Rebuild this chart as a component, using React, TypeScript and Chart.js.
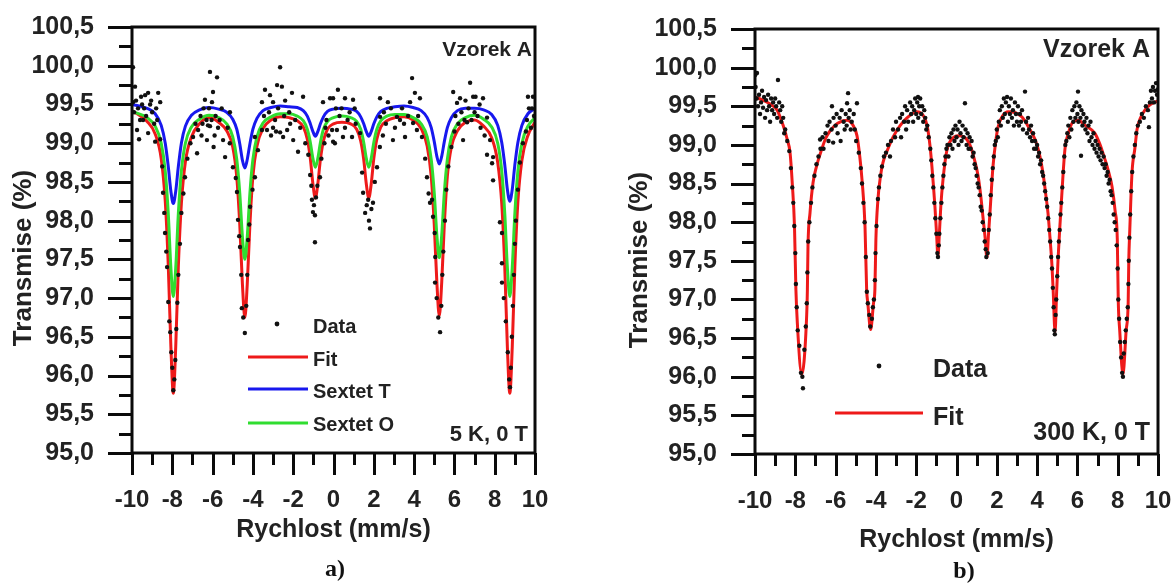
import React, { useEffect, useRef } from 'react';
import { Chart, registerables } from 'chart.js';

Chart.register(...registerables);

// ---------------- data ----------------
const xTicks = [-10, -8, -6, -4, -2, 0, 2, 4, 6, 8, 10];
const xMinorTicks = [-9, -7, -5, -3, -1, 1, 3, 5, 7, 9];
const yTicks = [95, 95.5, 96, 96.5, 97, 97.5, 98, 98.5, 99, 99.5, 100, 100.5];
const yMinorTicks = [95.25, 95.75, 96.25, 96.75, 97.25, 97.75, 98.25, 98.75, 99.25, 99.75, 100.25];

// panel a) 5 K — fit curves
const velA = [-10, -9.25, -8.85, -8.55, -8.35, -8.2, -8.07, -7.95, -7.83, -7.7, -7.55, -7.35, -7.05, -6.65,
  -6.17, -5.7, -5.3, -5.0, -4.8, -4.65, -4.52, -4.4, -4.28, -4.15, -4.0, -3.8, -3.5, -3.1,
  -2.65, -2.2, -1.8, -1.5, -1.3, -1.15, -1.02, -0.9, -0.78, -0.65, -0.5, -0.3, 0.0,
  0.42, 0.85, 1.15, 1.35, 1.5, 1.63, 1.75, 1.87, 2.0, 2.15, 2.35, 2.65, 3.05,
  3.5, 3.95, 4.35, 4.65, 4.85, 5.0, 5.13, 5.25, 5.37, 5.5, 5.65, 5.85, 6.15, 6.55,
  7.0, 7.45, 7.85, 8.15, 8.35, 8.5, 8.63, 8.75, 8.87, 9.0, 9.15, 9.35, 9.65, 10];

const sextetT = [99.5, 99.45, 99.38, 99.23, 99.0, 98.7, 98.38, 98.22, 98.38, 98.7, 99.0, 99.22, 99.36, 99.43,
  99.46, 99.44, 99.4, 99.31, 99.18, 98.99, 98.78, 98.68, 98.79, 98.99, 99.18, 99.32, 99.42, 99.46,
  99.48, 99.47, 99.46, 99.42, 99.35, 99.25, 99.15, 99.09, 99.15, 99.25, 99.34, 99.41, 99.44,
  99.45, 99.44, 99.41, 99.34, 99.25, 99.15, 99.09, 99.15, 99.25, 99.34, 99.41, 99.45, 99.47,
  99.48, 99.46, 99.42, 99.33, 99.2, 99.02, 98.83, 98.73, 98.83, 99.02, 99.2, 99.33, 99.42, 99.45,
  99.45, 99.43, 99.37, 99.23, 99.01, 98.72, 98.4, 98.25, 98.4, 98.72, 99.01, 99.23, 99.38, 99.45];

const sextetO = [99.41, 99.33, 99.22, 99.0, 98.64, 98.09, 97.39, 97.02, 97.39, 98.09, 98.64, 99.0, 99.21, 99.31,
  99.36, 99.33, 99.25, 99.08, 98.79, 98.35, 97.79, 97.5, 97.79, 98.35, 98.79, 99.08, 99.26, 99.34,
  99.38, 99.38, 99.35, 99.29, 99.18, 99.01, 98.8, 98.69, 98.8, 99.01, 99.18, 99.28, 99.33,
  99.35, 99.33, 99.28, 99.18, 99.01, 98.8, 98.69, 98.8, 99.01, 99.18, 99.29, 99.35, 99.37,
  99.37, 99.33, 99.25, 99.08, 98.79, 98.36, 97.81, 97.52, 97.81, 98.36, 98.79, 99.08, 99.25, 99.33,
  99.36, 99.31, 99.21, 99.0, 98.64, 98.09, 97.39, 97.02, 97.39, 98.09, 98.64, 99.0, 99.22, 99.33];

const fitA = [99.42, 99.28, 99.12, 98.8, 98.25, 97.42, 96.37, 95.77, 96.37, 97.41, 98.22, 98.76, 99.08, 99.25,
  99.33, 99.27, 99.16, 98.95, 98.56, 97.94, 97.18, 96.75, 97.18, 97.94, 98.57, 98.96, 99.19, 99.3,
  99.34, 99.33, 99.29, 99.21, 99.05, 98.8, 98.47, 98.29, 98.47, 98.79, 99.03, 99.18, 99.25,
  99.27, 99.25, 99.18, 99.03, 98.79, 98.47, 98.29, 98.47, 98.8, 99.05, 99.21, 99.29, 99.33,
  99.34, 99.3, 99.19, 98.96, 98.57, 97.95, 97.2, 96.77, 97.2, 97.95, 98.57, 98.95, 99.16, 99.27,
  99.3, 99.22, 99.07, 98.75, 98.22, 97.4, 96.36, 95.77, 96.36, 97.41, 98.24, 98.78, 99.1, 99.27];

// panel a) measured points [velocity, transmission]
const dataA = [
  [-9.95, 99.98], [-9.85, 99.73], [-9.95, 99.53], [-9.9, 99.4], [-9.8, 99.55], [-9.75, 99.17], [-9.7, 99.45], [-9.65, 99.05],
  [-9.6, 99.3], [-9.55, 99.6], [-9.5, 99.5], [-9.45, 99.3], [-9.4, 99.45], [-9.35, 99.62], [-9.3, 99.35], [-9.2, 99.65],
  [-9.2, 99.13], [-9.1, 99.5], [-9.05, 99.55], [-9.0, 99.4], [-8.9, 99.25], [-8.85, 99.02], [-8.8, 99.45], [-8.7, 99.65], [-8.6, 99.53],
  [-8.75, 99.3], [-8.6, 99.05], [-8.5, 98.7], [-8.46, 98.36], [-8.4, 98.1], [-8.36, 97.84], [-8.3, 97.6], [-8.26, 97.4],
  [-8.2, 96.95], [-8.15, 96.7], [-8.1, 96.56], [-8.05, 96.3], [-8.0, 96.1], [-7.95, 95.81], [-7.9, 95.95], [-7.85, 96.2],
  [-7.8, 96.6], [-7.75, 96.94], [-7.7, 97.3], [-7.62, 97.7], [-7.55, 98.1], [-7.45, 98.35], [-7.37, 98.56], [-7.25, 98.8],
  [-7.1, 99.0], [-6.97, 99.08],
  [-6.85, 99.25], [-6.77, 98.87], [-6.72, 99.17], [-6.6, 99.35], [-6.55, 99.1], [-6.5, 99.25], [-6.45, 99.45], [-6.38, 99.56],
  [-6.3, 99.3], [-6.28, 99.04], [-6.23, 99.23], [-6.18, 99.45], [-6.13, 99.92], [-6.13, 99.22], [-6.05, 99.3], [-6.03, 99.53],
  [-5.98, 99.66], [-5.95, 98.95], [-5.9, 99.1], [-5.85, 99.35], [-5.78, 99.85], [-5.73, 99.2], [-5.65, 99.3], [-5.55, 99.45],
  [-5.48, 99.04], [-5.38, 98.82], [-5.25, 99.2], [-5.14, 99.4],
  [-5.15, 99.0], [-4.99, 98.69], [-4.85, 98.55], [-4.79, 98.37], [-4.74, 98.01], [-4.68, 97.8], [-4.64, 97.66], [-4.58, 97.3],
  [-4.55, 96.87], [-4.48, 96.75], [-4.4, 96.55], [-4.33, 96.9], [-4.28, 97.3], [-4.24, 97.75], [-4.18, 97.95], [-4.14, 98.18],
  [-4.02, 98.4], [-3.9, 98.56], [-3.9, 99.08], [-3.75, 98.91],
  [-3.55, 99.53], [-3.55, 99.17], [-3.45, 99.35], [-3.4, 99.69], [-3.3, 99.17], [-3.2, 99.4], [-3.15, 99.62], [-3.1, 99.1],
  [-3.0, 99.53], [-3.0, 99.2], [-2.9, 99.3], [-2.85, 99.15], [-2.8, 99.75], [-2.75, 99.45], [-2.65, 99.98], [-2.65, 99.14],
  [-2.56, 99.73], [-2.5, 99.08], [-2.45, 99.35], [-2.4, 99.55], [-2.3, 99.17], [-2.2, 99.4], [-2.15, 99.25], [-2.06, 99.65],
  [-2.0, 99.04], [-1.9, 99.3], [-1.76, 98.89], [-1.65, 99.2], [-1.51, 99.6],
  [-1.4, 99.0], [-1.25, 98.85], [-1.16, 98.59], [-1.1, 98.45], [-1.07, 98.27], [-1.02, 98.11], [-0.97, 98.2], [-0.92, 98.07],
  [-0.92, 97.72], [-0.87, 98.3], [-0.8, 98.45], [-0.67, 98.56], [-0.6, 98.8], [-0.45, 99.0],
  [-0.52, 99.53], [-0.4, 99.2], [-0.35, 99.3], [-0.25, 99.1], [-0.17, 99.58], [-0.07, 99.17], [-0.02, 99.58], [-0.02, 99.02],
  [0.07, 99.0], [0.12, 99.45], [0.17, 99.17], [0.22, 99.69], [0.3, 99.35], [0.4, 99.45], [0.47, 99.08], [0.57, 99.58],
  [0.57, 99.2], [0.7, 99.3], [0.8, 99.4], [0.92, 99.08], [0.97, 99.56], [1.05, 99.45], [1.1, 99.25], [1.32, 99.13],
  [1.42, 98.62], [1.47, 98.36], [1.57, 98.1], [1.65, 98.2], [1.72, 98.27], [1.76, 98.0], [1.81, 97.9], [1.88, 98.15],
  [1.96, 98.23], [2.05, 98.5], [2.16, 98.69], [2.3, 98.95],
  [2.31, 99.58], [2.31, 99.34], [2.45, 99.1], [2.5, 99.4], [2.6, 99.25], [2.7, 99.53], [2.85, 99.45], [2.95, 99.04],
  [3.05, 99.2], [3.15, 99.34], [3.3, 99.3], [3.4, 99.45], [3.5, 99.25], [3.55, 99.08], [3.7, 99.35], [3.8, 99.53],
  [3.9, 99.84], [3.95, 99.26], [4.04, 99.65], [4.14, 99.17], [4.2, 99.35], [4.29, 99.58], [4.39, 99.08],
  [4.55, 98.8], [4.64, 98.56], [4.72, 98.35], [4.79, 98.23], [4.89, 98.27], [4.94, 98.05], [5.02, 97.84], [5.05, 97.53],
  [5.04, 97.2], [5.12, 97.0], [5.2, 96.75], [5.29, 96.56], [5.35, 96.9], [5.4, 97.3], [5.45, 97.6], [5.53, 98.0],
  [5.6, 98.4], [5.7, 98.7], [5.85, 98.95],
  [5.94, 99.66], [6.0, 99.15], [6.05, 99.35], [6.13, 99.52], [6.2, 99.25], [6.28, 99.58], [6.35, 99.4], [6.43, 99.04],
  [6.5, 99.3], [6.55, 99.55], [6.63, 99.27], [6.7, 99.45], [6.78, 99.78], [6.85, 99.3], [6.93, 99.6], [7.0, 99.4],
  [7.05, 99.6], [7.15, 99.35], [7.25, 99.5], [7.3, 99.2], [7.42, 99.58], [7.5, 99.1], [7.62, 99.33], [7.77, 99.04],
  [7.62, 98.85], [7.87, 98.74], [7.92, 98.82], [7.92, 98.52], [8.26, 97.98], [8.36, 97.84], [8.36, 97.45], [8.36, 97.2],
  [8.45, 97.0], [8.55, 96.7], [8.65, 96.3], [8.72, 95.95], [8.76, 95.85], [8.8, 96.1], [8.85, 96.5], [8.9, 96.9],
  [8.95, 97.3], [9.0, 97.7], [9.05, 98.0], [9.15, 98.4], [9.25, 98.75], [9.4, 99.0], [9.55, 99.15],
  [9.6, 99.3], [9.65, 99.6], [9.7, 99.45], [9.8, 99.2], [9.85, 99.45], [9.9, 99.6], [9.95, 99.35],
];

// panel b) 300 K — fit curve
const velB = [-10, -9.6, -9.2, -8.9, -8.6, -8.4, -8.26, -8.15, -8.04, -7.97,
  -7.9, -7.68, -7.45, -7.4, -7.37, -7.27, -7.12, -6.95, -6.77, -6.5,
  -6.28, -5.9, -5.43, -5.15, -4.94, -4.8, -4.69, -4.54, -4.46, -4.4,
  -4.26, -4.12, -4.05, -4.0, -3.9, -3.78, -3.65, -3.4, -3.15, -2.8,
  -2.46, -1.96, -1.65, -1.46, -1.32, -1.22, -1.07, -0.99, -0.92, -0.85,
  -0.78, -0.67, -0.47, -0.25, 0.07, 0.4, 0.7, 0.9, 1.07, 1.2,
  1.32, 1.42, 1.51, 1.59, 1.66, 1.81, 1.95, 2.06, 2.3, 2.56,
  2.9, 3.25, 3.6, 3.9, 4.1, 4.29, 4.42, 4.54, 4.64, 4.74,
  4.8, 4.89, 4.97, 5.04, 5.12, 5.19, 5.38, 5.55, 5.73, 6.03,
  6.4, 6.87, 7.1, 7.37, 7.55, 7.72, 7.87, 7.98, 8.03, 8.1,
  8.26, 8.42, 8.52, 8.55, 8.6, 8.71, 8.85, 8.96, 9.15, 9.35,
  9.6, 10];

const fitB = [99.62, 99.58, 99.52, 99.45, 99.25, 99.07, 98.9, 98.5, 97.94, 97.13,
  96.7, 96.03, 96.7, 97.13, 97.69, 98.12, 98.51, 98.72, 98.88, 99.08,
  99.18, 99.28, 99.32, 99.26, 99.12, 98.85, 98.55, 97.94, 97.13, 96.95,
  96.61, 96.95, 97.13, 97.78, 98.29, 98.58, 98.77, 98.95, 99.1, 99.25,
  99.35, 99.43, 99.38, 99.25, 99.0, 98.72, 98.2, 97.85, 97.56, 97.85,
  98.2, 98.55, 98.94, 99.07, 99.12, 99.1, 98.98, 98.8, 98.6, 98.35,
  98.05, 97.8, 97.54, 97.85, 98.12, 98.72, 99.05, 99.23, 99.38, 99.43,
  99.42, 99.36, 99.22, 99.07, 98.9, 98.64, 98.38, 98.12, 97.8, 97.43,
  97.1, 96.58, 97.1, 97.52, 97.9, 98.2, 98.94, 99.15, 99.28, 99.32,
  99.25, 99.15, 99.02, 98.81, 98.65, 98.46, 98.15, 97.78, 96.96, 96.6,
  96.03, 96.6, 96.96, 97.5, 97.9, 98.64, 98.95, 99.2, 99.36, 99.45,
  99.52, 99.57];

// panel b) measured points [velocity, transmission]
const dataB = [
  [-10.0, 99.9], [-9.97, 99.75], [-9.92, 99.6], [-9.9, 99.93], [-9.85, 99.5], [-9.8, 99.65], [-9.75, 99.4], [-9.7, 99.55],
  [-9.65, 99.7], [-9.6, 99.48], [-9.55, 99.62], [-9.5, 99.35], [-9.45, 99.58], [-9.4, 99.45], [-9.35, 99.65], [-9.3, 99.5],
  [-9.25, 99.3], [-9.2, 99.6], [-9.15, 99.45], [-9.1, 99.55], [-9.05, 99.4], [-9.0, 99.6], [-8.95, 99.5], [-8.9, 99.35],
  [-8.86, 99.84], [-8.8, 99.55], [-8.75, 99.45], [-8.7, 99.3], [-8.65, 99.5], [-8.6, 99.35], [-8.55, 99.15], [-8.5, 99.2],
  [-8.4, 99.05], [-8.3, 98.92], [-8.22, 98.7], [-8.15, 98.45], [-8.1, 98.25], [-8.05, 97.95], [-8.0, 97.6], [-7.97, 97.2],
  [-7.93, 96.9], [-7.88, 96.6], [-7.8, 96.4], [-7.72, 96.05], [-7.65, 96.0], [-7.62, 95.85], [-7.55, 96.35], [-7.48, 96.65],
  [-7.43, 96.95], [-7.4, 97.35], [-7.36, 97.75], [-7.3, 98.0], [-7.22, 98.25], [-7.15, 98.45], [-7.05, 98.6], [-6.95, 98.75],
  [-6.85, 98.85], [-6.77, 99.07], [-6.75, 98.95],
  [-6.65, 99.1], [-6.6, 98.95], [-6.5, 99.15], [-6.4, 99.25], [-6.35, 99.05], [-6.3, 99.3], [-6.2, 99.2], [-6.18, 99.5],
  [-6.12, 99.03], [-6.1, 99.35], [-6.0, 99.25], [-5.95, 99.4], [-5.9, 99.15], [-5.8, 99.35], [-5.75, 99.05], [-5.7, 99.45],
  [-5.6, 99.3], [-5.55, 99.2], [-5.5, 99.4], [-5.43, 99.54], [-5.45, 99.25], [-5.38, 99.67], [-5.35, 99.35], [-5.3, 99.45],
  [-5.25, 99.2], [-5.2, 99.3], [-5.1, 99.4], [-5.05, 99.2], [-4.94, 99.54], [-4.98, 99.05],
  [-4.85, 98.9], [-4.75, 98.7], [-4.69, 98.5], [-4.62, 98.25], [-4.56, 98.0], [-4.5, 97.55], [-4.45, 97.1], [-4.4, 96.95],
  [-4.33, 96.8], [-4.28, 96.65], [-4.2, 96.75], [-4.15, 96.9], [-4.1, 97.0], [-4.05, 97.25], [-4.02, 97.6], [-3.97, 97.95],
  [-3.9, 98.3], [-3.85, 98.45], [-3.78, 98.6], [-3.7, 98.72], [-3.6, 98.85], [-3.5, 98.9], [-3.4, 99.0], [-3.3, 98.85], [-3.25, 99.05],
  [-3.15, 99.2], [-3.05, 99.1], [-3.0, 99.3], [-2.9, 99.2], [-2.8, 99.35], [-2.75, 99.1], [-2.7, 99.4], [-2.6, 99.3],
  [-2.55, 99.5], [-2.5, 99.2], [-2.45, 99.45], [-2.4, 99.3], [-2.3, 99.55], [-2.25, 99.4], [-2.2, 99.5], [-2.15, 99.3],
  [-2.1, 99.45], [-2.05, 99.6], [-2.0, 99.4], [-1.95, 99.55], [-1.91, 99.62], [-1.9, 99.35], [-1.85, 99.5], [-1.8, 99.6],
  [-1.75, 99.4], [-1.7, 99.5], [-1.65, 99.3], [-1.6, 99.45], [-1.55, 99.35], [-1.5, 99.2], [-1.45, 99.25],
  [-1.38, 99.1], [-1.3, 98.95], [-1.25, 98.8], [-1.2, 98.6], [-1.15, 98.45], [-1.1, 98.25], [-1.05, 98.05], [-1.0, 97.85],
  [-0.95, 97.6], [-0.92, 97.55], [-0.88, 97.7], [-0.85, 97.85], [-0.8, 98.05], [-0.75, 98.25], [-0.7, 98.45], [-0.65, 98.6],
  [-0.6, 98.75], [-0.55, 98.85], [-0.5, 98.95],
  [-0.45, 99.0], [-0.4, 98.85], [-0.35, 99.1], [-0.3, 99.0], [-0.25, 99.15], [-0.2, 98.95], [-0.15, 99.2], [-0.1, 99.05],
  [-0.05, 99.25], [0.0, 99.1], [0.05, 99.2], [0.1, 99.0], [0.15, 99.3], [0.2, 99.15], [0.25, 99.05], [0.3, 99.25],
  [0.35, 99.1], [0.42, 99.54], [0.45, 99.2], [0.5, 99.0], [0.55, 99.15], [0.6, 98.95], [0.65, 99.1], [0.7, 98.95],
  [0.75, 99.05], [0.8, 98.85], [0.85, 98.9], [0.9, 98.75],
  [0.95, 98.7], [1.0, 98.6], [1.05, 98.5], [1.1, 98.45], [1.15, 98.35], [1.2, 98.2], [1.25, 98.15], [1.3, 98.0],
  [1.35, 97.9], [1.4, 97.75], [1.45, 97.65], [1.48, 97.55], [1.55, 97.6], [1.6, 97.9], [1.65, 98.1], [1.7, 98.35],
  [1.75, 98.55], [1.8, 98.7], [1.85, 98.85], [1.9, 99.0], [1.95, 99.05],
  [2.0, 99.2], [2.05, 99.1], [2.1, 99.3], [2.15, 99.45], [2.2, 99.25], [2.25, 99.5], [2.3, 99.35], [2.35, 99.6],
  [2.4, 99.4], [2.45, 99.55], [2.51, 99.62], [2.55, 99.3], [2.6, 99.5], [2.65, 99.4], [2.7, 99.6], [2.75, 99.35],
  [2.8, 99.45], [2.85, 99.25], [2.9, 99.55], [2.95, 99.4], [3.0, 99.3], [3.05, 99.5], [3.1, 99.25], [3.15, 99.4],
  [3.2, 99.3], [3.25, 99.45], [3.3, 99.2], [3.4, 99.69], [3.45, 99.3], [3.5, 99.15], [3.55, 99.35], [3.6, 99.2],
  [3.65, 99.1], [3.7, 99.25], [3.75, 99.05], [3.8, 99.15], [3.85, 98.95], [3.9, 99.05],
  [3.95, 98.95], [4.0, 99.0], [4.05, 98.85], [4.1, 98.9], [4.15, 98.75], [4.2, 98.8], [4.25, 98.65], [4.3, 98.6],
  [4.35, 98.5], [4.4, 98.4], [4.45, 98.3], [4.5, 98.2], [4.55, 98.05], [4.6, 97.9], [4.65, 97.75], [4.7, 97.55],
  [4.74, 97.4], [4.78, 97.15], [4.82, 96.9], [4.86, 96.6], [4.88, 96.55], [4.92, 96.8], [4.95, 97.0], [5.0, 97.3],
  [5.04, 97.55], [5.08, 97.75], [5.12, 97.9], [5.16, 98.1], [5.2, 98.25], [5.25, 98.45], [5.3, 98.65], [5.35, 98.85],
  [5.4, 99.0], [5.45, 99.05], [5.5, 99.15],
  [5.55, 99.25], [5.6, 99.1], [5.65, 99.35], [5.7, 99.2], [5.75, 99.45], [5.8, 99.3], [5.85, 99.5], [5.9, 99.35],
  [5.95, 99.55], [6.0, 99.4], [6.03, 99.69], [6.05, 99.3], [6.1, 99.5], [6.15, 99.35], [6.18, 98.86], [6.2, 99.45],
  [6.25, 99.25], [6.3, 99.4], [6.35, 99.3], [6.4, 99.2], [6.45, 99.35], [6.5, 99.15], [6.55, 99.25], [6.6, 99.05],
  [6.65, 99.3], [6.7, 99.1], [6.75, 99.0], [6.8, 99.15], [6.85, 98.95], [6.9, 99.05], [6.95, 98.9], [7.0, 99.0],
  [7.05, 98.85], [7.1, 98.95], [7.15, 98.8], [7.2, 98.9], [7.25, 98.75], [7.3, 98.85], [7.35, 98.7],
  [7.4, 98.75], [7.45, 98.6], [7.5, 98.65], [7.55, 98.5], [7.6, 98.55], [7.65, 98.4], [7.7, 98.35], [7.75, 98.25],
  [7.8, 98.1], [7.85, 98.0], [7.9, 97.9], [7.95, 97.7], [8.0, 97.4], [8.03, 97.0], [8.07, 96.75], [8.12, 96.45],
  [8.17, 96.25], [8.22, 96.05], [8.26, 96.0], [8.3, 96.3], [8.35, 96.45], [8.4, 96.6], [8.45, 96.75], [8.5, 96.9],
  [8.53, 97.2], [8.55, 97.5], [8.58, 97.8], [8.62, 98.1], [8.67, 98.4], [8.72, 98.65], [8.78, 98.85], [8.85, 99.0],
  [8.92, 99.15], [9.0, 99.25],
  [9.1, 99.3], [9.2, 99.4], [9.3, 99.35], [9.4, 99.5], [9.5, 99.45], [9.55, 99.23], [9.6, 99.55], [9.65, 99.7],
  [9.7, 99.6], [9.75, 99.75], [9.8, 99.55], [9.85, 99.7], [9.9, 99.8], [9.95, 99.65], [10.0, 99.72],
];

// ---------------- text ----------------
const X_TITLE = 'Rychlost (mm/s)';
const Y_TITLE = 'Transmise (%)';
const SAMPLE = 'Vzorek A';
const LEGEND_A = ['Data', 'Fit', 'Sextet T', 'Sextet O'];
const LEGEND_B = ['Data', 'Fit'];

// ---------------- styles ----------------
const W = 587;
const H = 587;
const SANS = '"Liberation Sans", Arial, Helvetica, sans-serif';
const SERIF = '"Liberation Serif", "Times New Roman", serif';
const INK = '#222222';
const AXIS = '#0a0a0a';
const RED = '#ee1a1a';
const BLUE = '#1818ee';
const GREEN = '#30dd30';
const DOT = '#111111';

const PANEL_A = {
  area: { left: 132, right: 535, top: 27, bottom: 453 },
  xLabelPad: 33,
  xTitlePad: 42,
  yTitle: { x: 24, y: 258, size: 26 },
  legendFont: 20,
  legend: [
    { kind: 'dot', color: DOT, y: 324, ty: 327, label: LEGEND_A[0] },
    { kind: 'line', color: RED, y: 357, ty: 360, label: LEGEND_A[1] },
    { kind: 'line', color: BLUE, y: 389, ty: 392, label: LEGEND_A[2] },
    { kind: 'line', color: GREEN, y: 423, ty: 425, label: LEGEND_A[3] },
  ],
  legendDotX: 277,
  legendLine: [248, 308],
  legendTextX: 313,
  sample: { right: 532, y: 50, size: 21 },
  cond: { text: '5 K, 0 T', right: 528, y: 435, size: 22 },
  tag: { text: 'a)', x: 335, y: 570 },
};

const PANEL_B = {
  area: { left: 168, right: 571, top: 29, bottom: 454 },
  xLabelPad: 33,
  xTitlePad: 32,
  yTitle: { x: 53, y: 260, size: 26 },
  legendFont: 25,
  legend: [
    { kind: 'dot', color: DOT, y: 366, ty: 370, label: LEGEND_B[0] },
    { kind: 'line', color: RED, y: 413, ty: 418, label: LEGEND_B[1] },
  ],
  legendDotX: 292,
  legendLine: [248, 336],
  legendTextX: 346,
  sample: { right: 563, y: 50, size: 25 },
  cond: { text: '300 K, 0 T', right: 563, y: 433, size: 25 },
  tag: { text: 'b)', x: 377, y: 572 },
};

function framePlugin(cfg: any) {
  return {
    id: 'frame',
    afterDraw(chart: any) {
      const ctx = chart.ctx;
      const a = chart.chartArea;
      const xs = chart.scales.x;
      const ys = chart.scales.y;
      ctx.save();
      ctx.strokeStyle = AXIS;
      ctx.lineWidth = 3;
      ctx.lineCap = 'butt';
      ctx.strokeRect(a.left, a.top, a.right - a.left, a.bottom - a.top);
      ctx.beginPath();
      yTicks.forEach((v) => {
        const p = Math.round(ys.getPixelForValue(v)) + 0.5;
        ctx.moveTo(a.left - 24, p);
        ctx.lineTo(a.left, p);
      });
      yMinorTicks.forEach((v) => {
        const p = Math.round(ys.getPixelForValue(v)) + 0.5;
        ctx.moveTo(a.left - 13, p);
        ctx.lineTo(a.left, p);
      });
      xTicks.forEach((v) => {
        const p = Math.round(xs.getPixelForValue(v)) + 0.5;
        ctx.moveTo(p, a.bottom);
        ctx.lineTo(p, a.bottom + 22);
      });
      xMinorTicks.forEach((v) => {
        const p = Math.round(xs.getPixelForValue(v)) + 0.5;
        ctx.moveTo(p, a.bottom);
        ctx.lineTo(p, a.bottom + 12);
      });
      ctx.stroke();

      // y axis title
      ctx.fillStyle = INK;
      ctx.save();
      ctx.translate(cfg.yTitle.x, cfg.yTitle.y);
      ctx.rotate(-Math.PI / 2);
      ctx.font = `bold ${cfg.yTitle.size}px ${SANS}`;
      ctx.textAlign = 'center';
      ctx.textBaseline = 'middle';
      ctx.fillText(Y_TITLE, 0, 0);
      ctx.restore();

      // legend
      ctx.font = `bold ${cfg.legendFont}px ${SANS}`;
      ctx.textAlign = 'left';
      ctx.textBaseline = 'middle';
      cfg.legend.forEach((it: any) => {
        if (it.kind === 'dot') {
          ctx.fillStyle = it.color;
          ctx.beginPath();
          ctx.arc(cfg.legendDotX, it.y, 2.4, 0, Math.PI * 2);
          ctx.fill();
        } else {
          ctx.strokeStyle = it.color;
          ctx.lineWidth = 3;
          ctx.beginPath();
          ctx.moveTo(cfg.legendLine[0], it.y);
          ctx.lineTo(cfg.legendLine[1], it.y);
          ctx.stroke();
        }
        ctx.fillStyle = INK;
        ctx.fillText(it.label, cfg.legendTextX, it.ty);
      });

      // annotations
      ctx.textAlign = 'right';
      ctx.font = `bold ${cfg.sample.size}px ${SANS}`;
      ctx.fillText(SAMPLE, cfg.sample.right, cfg.sample.y);
      ctx.font = `bold ${cfg.cond.size}px ${SANS}`;
      ctx.fillText(cfg.cond.text, cfg.cond.right, cfg.cond.y);

      ctx.textAlign = 'center';
      ctx.font = `bold 24px ${SERIF}`;
      ctx.fillStyle = '#111';
      ctx.fillText(cfg.tag.text, cfg.tag.x, cfg.tag.y);
      ctx.restore();
    },
  };
}

function pairs(xs: number[], ys: number[]) {
  return xs.map((x, i) => ({ x, y: ys[i] }));
}

function lineSet(label: string, pts: any[], color: string) {
  return {
    label,
    data: pts,
    showLine: true,
    borderColor: color,
    backgroundColor: color,
    borderWidth: 3,
    pointRadius: 0,
    cubicInterpolationMode: 'monotone',
  };
}

function dotSet(label: string, pts: number[][]) {
  return {
    label,
    data: pts.map(([x, y]) => ({ x, y })),
    showLine: false,
    pointRadius: 2.2,
    pointBorderWidth: 0,
    backgroundColor: DOT,
    borderColor: DOT,
  };
}

function Panel({ cfg, datasets, left }: any) {
  const ref = useRef<HTMLCanvasElement>(null);
  useEffect(() => {
    const a = cfg.area;
    const chart = new Chart(ref.current as HTMLCanvasElement, {
      type: 'scatter',
      data: { datasets },
      options: {
        responsive: false,
        animation: false,
        devicePixelRatio: 1,
        layout: { padding: { left: 0, top: a.top, right: W - a.right, bottom: 0 } },
        plugins: { legend: { display: false }, tooltip: { enabled: false } },
        scales: {
          x: {
            type: 'linear',
            min: -10,
            max: 10,
            afterBuildTicks: (s: any) => {
              s.ticks = xTicks.map((v) => ({ value: v }));
            },
            afterFit: (s: any) => {
              s.height = H - a.bottom;
              s.paddingLeft = 0;
              s.paddingRight = 0;
            },
            grid: { display: false, drawTicks: false },
            border: { display: false },
            ticks: {
              padding: cfg.xLabelPad,
              color: INK,
              font: { family: SANS, size: 24, weight: 'bold' },
              maxRotation: 0,
              callback: (v: any) => String(v),
            },
            title: {
              display: true,
              text: X_TITLE,
              color: INK,
              font: { family: SANS, size: 25, weight: 'bold' },
              padding: { top: 0, bottom: cfg.xTitlePad },
            },
          },
          y: {
            type: 'linear',
            min: 95,
            max: 100.5,
            afterBuildTicks: (s: any) => {
              s.ticks = yTicks.map((v) => ({ value: v }));
            },
            afterFit: (s: any) => {
              s.width = a.left;
              s.paddingTop = 0;
              s.paddingBottom = 0;
            },
            grid: { display: false, drawTicks: false },
            border: { display: false },
            ticks: {
              padding: 38,
              color: INK,
              font: { family: SANS, size: 25, weight: 'bold' },
              callback: (v: any) => Number(v).toFixed(1).replace('.', ','),
            },
          },
        },
      } as any,
      plugins: [framePlugin(cfg)],
    });
    return () => chart.destroy();
  }, []);
  return (
    <canvas
      ref={ref}
      width={W}
      height={H}
      style={{ position: 'absolute', left, top: 0, width: W, height: H }}
    />
  );
}

export default function App() {
  const datasetsA = [
    dotSet(LEGEND_A[0], dataA),
    lineSet(LEGEND_A[2], pairs(velA, sextetT), BLUE),
    lineSet(LEGEND_A[3], pairs(velA, sextetO), GREEN),
    lineSet(LEGEND_A[1], pairs(velA, fitA), RED),
  ];
  const datasetsB = [
    dotSet(LEGEND_B[0], dataB),
    lineSet(LEGEND_B[1], pairs(velB, fitB), RED),
  ];
  return (
    <div style={{ position: 'absolute', left: 0, top: 0, width: 1174, height: 587, background: '#fff' }}>
      <Panel cfg={PANEL_A} datasets={datasetsA} left={0} />
      <Panel cfg={PANEL_B} datasets={datasetsB} left={587} />
    </div>
  );
}
